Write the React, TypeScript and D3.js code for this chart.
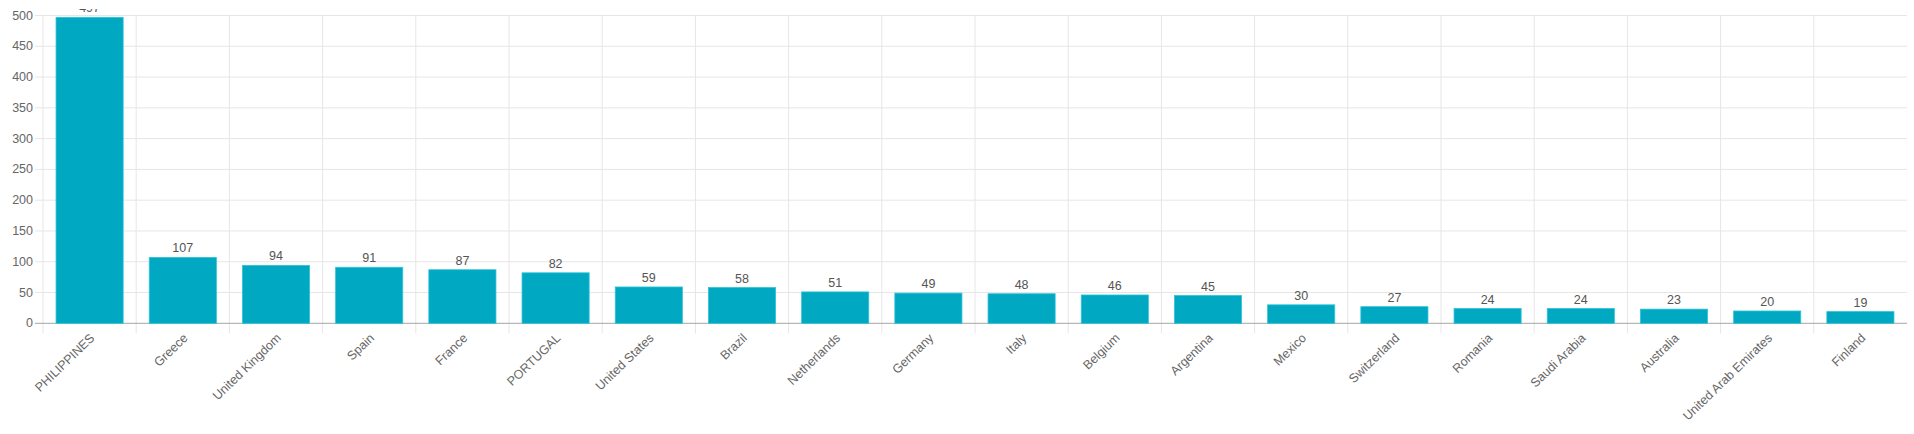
import { useEffect, useRef } from 'react';
import * as d3 from 'd3';

const countries = [
  'PHILIPPINES', 'Greece', 'United Kingdom', 'Spain', 'France', 'PORTUGAL',
  'United States', 'Brazil', 'Netherlands', 'Germany', 'Italy', 'Belgium',
  'Argentina', 'Mexico', 'Switzerland', 'Romania', 'Saudi Arabia', 'Australia',
  'United Arab Emirates', 'Finland',
];
const counts = [497, 107, 94, 91, 87, 82, 59, 58, 51, 49, 48, 46, 45, 30, 27, 24, 24, 23, 20, 19];
const yTicks = [0, 50, 100, 150, 200, 250, 300, 350, 400, 450, 500];

const W = 1914;
const H = 434;
const FONT = '"Liberation Sans", Arial, Helvetica, sans-serif';

const App = () => {
  const svgRef = useRef(null);

  useEffect(() => {
    document.body.style.margin = '0';
    const svg = d3.select(svgRef.current);
    svg.selectAll('*').remove();

    const left = 43, right = 1907, top = 15.5, bottom = 323.3;

    const x = d3.scaleBand().domain(countries).range([left, right]).padding(0);
    const y = d3.scaleLinear().domain([0, 500]).range([bottom, top]);

    // canvas top edge cuts off the first value label
    svg.append('defs').append('clipPath').attr('id', 'cv')
      .append('rect').attr('x', 0).attr('y', 9).attr('width', W).attr('height', H);

    const g = svg.append('g').attr('clip-path', 'url(#cv)');

    // horizontal grid + left tick marks
    g.append('g').selectAll('line').data(yTicks.filter(d => d !== 0)).join('line')
      .attr('x1', left - 8).attr('x2', right)
      .attr('y1', d => y(d)).attr('y2', d => y(d))
      .attr('stroke', '#e6e6e6').attr('stroke-width', 1);

    // vertical grid at category boundaries, incl. tick marks below axis
    const bounds = countries.map(c => x(c) as number);
    g.append('g').selectAll('line').data(bounds).join('line')
      .attr('x1', d => d).attr('x2', d => d)
      .attr('y1', top).attr('y2', bottom + 10)
      .attr('stroke', '#e6e6e6').attr('stroke-width', 1);

    // zero line
    g.append('line')
      .attr('x1', left - 8).attr('x2', right)
      .attr('y1', y(0)).attr('y2', y(0))
      .attr('stroke', '#a6a6a6').attr('stroke-width', 1);

    // y labels
    g.append('g').selectAll('text').data(yTicks).join('text')
      .attr('x', 33).attr('y', d => y(d))
      .attr('text-anchor', 'end').attr('dominant-baseline', 'central')
      .attr('font-family', FONT).attr('font-size', 12.5).attr('fill', '#666')
      .text(d => d);

    // bars
    const bw = x.bandwidth() * 0.72;
    const cx = (c: string) => (x(c) as number) + x.bandwidth() / 2;
    g.append('g').selectAll('rect').data(countries).join('rect')
      .attr('x', c => cx(c) - bw / 2)
      .attr('y', (c, i) => y(counts[i]))
      .attr('width', bw)
      .attr('height', (c, i) => y(0) - y(counts[i]))
      .attr('fill', '#00a8c1')
      .attr('stroke', '#2cc3d8').attr('stroke-width', 0.8);

    // value labels
    g.append('g').selectAll('text').data(countries).join('text')
      .attr('x', c => cx(c))
      .attr('y', (c, i) => y(counts[i]) - 5)
      .attr('text-anchor', 'middle')
      .attr('font-family', FONT).attr('font-size', 12.5).attr('fill', '#555')
      .text((c, i) => counts[i]);

    // x labels, rotated
    g.append('g').selectAll('text').data(countries).join('text')
      .attr('transform', c => `translate(${cx(c) + 3},336) rotate(-44)`)
      .attr('text-anchor', 'end').attr('dominant-baseline', 'central')
      .attr('font-family', FONT).attr('font-size', 12.5).attr('fill', '#666')
      .text(c => c);
  }, []);

  return <svg ref={svgRef} width={W} height={H} style={{ display: 'block', background: '#fff' }} />;
};

export default App;
